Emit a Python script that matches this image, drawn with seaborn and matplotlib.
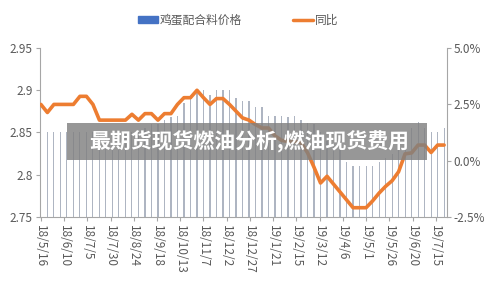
import numpy as np
import pandas as pd
import matplotlib
matplotlib.use("Agg")
import matplotlib.pyplot as plt
import seaborn as sns
from matplotlib.patches import Patch, Rectangle
from matplotlib.lines import Line2D

# ---------------- data ----------------
start_date = "2018-05-16"   # weekly series
price = [2.857, 2.85, 2.85, 2.85, 2.85, 2.85, 2.85, 2.85, 2.85, 2.85,
         2.85, 2.85, 2.85, 2.85, 2.85, 2.85, 2.855, 2.86, 2.86, 2.865,
         2.868, 2.87, 2.885, 2.893, 2.902, 2.90, 2.895, 2.90, 2.90, 2.90,
         2.891, 2.887, 2.887, 2.88, 2.88, 2.87, 2.87, 2.87, 2.868, 2.87,
         2.865, 2.861, 2.86, 2.85, 2.84, 2.835, 2.83, 2.815, 2.81, 2.81,
         2.81, 2.81, 2.815, 2.82, 2.825, 2.84, 2.85, 2.855, 2.863, 2.855,
         2.85, 2.85, 2.855]
yoy = [2.5, 2.14, 2.5, 2.5, 2.5, 2.5, 2.86, 2.86, 2.5, 1.8,
       1.8, 1.8, 1.8, 1.8, 2.06, 1.8, 2.09, 2.09, 1.8, 2.09,
       2.09, 2.5, 2.8, 2.8, 3.13, 2.8, 2.5, 2.76, 2.76, 2.5,
       2.2, 1.9, 1.8, 1.6, 1.45, 1.45, 1.1, 0.9, 0.85, 0.85,
       0.8, 0.35, -0.3, -1.0, -0.7, -1.05, -1.4, -1.75, -2.1, -2.1,
       -2.1, -1.8, -1.45, -1.15, -0.9, -0.5, 0.3, 0.34, 0.69, 0.69,
       0.36, 0.69, 0.69]
tick_labels = ["18/5/16", "18/6/10", "18/7/5", "18/7/30", "18/8/24", "18/9/18",
               "18/10/13", "18/11/7", "18/12/2", "18/12/27", "19/1/21", "19/2/15",
               "19/3/12", "19/4/6", "19/5/1", "19/5/26", "19/6/20", "19/7/15"]
left_ticks = [2.75, 2.8, 2.85, 2.9, 2.95]
right_ticks = [-2.5, 0.0, 2.5, 5.0]
series_names = ["鸡蛋配合料价格", "同比"]
overlay_text = "最期货现货燃油分析,燃油现货费用"

# ---------------- prep ----------------
dates = pd.date_range(start_date, periods=len(price), freq="7D")
day = np.asarray((dates - dates[0]).days)
df = pd.DataFrame({"day": day, "price": price, "yoy": yoy})
tick_days = [(pd.to_datetime("20" + t, format="%Y/%m/%d") - dates[0]).days
             for t in tick_labels]

sns.set_theme(style="white")
plt.rcParams["font.family"] = ["Noto Sans CJK SC", "DejaVu Sans"]

txt = "#595959"
axc = "#a6a6a6"
bar_c = "#aeb5c2"
line_c = "#ED7D31"

fig = plt.figure(figsize=(4.95, 2.84), dpi=100)
ax = fig.add_axes([0.0798, 0.237, 0.823, 0.593])

sns.barplot(data=df, x="day", y="price", native_scale=True, width=0.17,
            color=bar_c, saturation=1, linewidth=0, ax=ax)
ax.set_ylim(2.75, 2.95)
ax.set_yticks(left_ticks)
ax.set_yticklabels([f"{v:g}" for v in left_ticks])
ax.set_xlim(-1.5, 437)
ax.set_xticks(tick_days)
ax.set_xticklabels(tick_labels, rotation=-90)
ax.set_xlabel("")
ax.set_ylabel("")

ax2 = ax.twinx()
sns.lineplot(data=df, x="day", y="yoy", color=line_c, linewidth=2.6, ax=ax2)
ax2.set_ylim(-2.5, 5.0)
ax2.set_yticks(right_ticks)
ax2.set_yticklabels([f"{v:.1f}%" for v in right_ticks])
ax2.set_xlim(-1.5, 437)
ax2.set_xlabel("")
ax2.set_ylabel("")

for a in (ax, ax2):
    a.spines["top"].set_visible(False)
    for s in ("left", "right", "bottom"):
        a.spines[s].set_color(axc)
        a.spines[s].set_linewidth(0.8)
    a.tick_params(axis="both", colors=axc, labelcolor=txt, labelsize=8.5,
                  length=3, width=0.8, direction="out", pad=2)
ax.spines["right"].set_visible(False)
ax2.spines["left"].set_visible(False)
ax2.spines["bottom"].set_visible(False)
ax.tick_params(axis="y", left=True)
ax.tick_params(axis="x", bottom=True, labelsize=8.5, pad=3)
ax2.tick_params(axis="y", right=True)

# legend
handles = [Patch(color="#4472c4"), Line2D([], [], color=line_c, lw=2.5)]
leg = fig.legend(handles=handles, labels=series_names, loc="center",
                 bbox_to_anchor=(0.481, 0.93), ncol=2, frameon=False,
                 fontsize=8.5, handlelength=1.7, handleheight=0.5,
                 columnspacing=4.3, handletextpad=0.15)
for t in leg.get_texts():
    t.set_color(txt)

# overlay band with watermark text
fig.patches.append(Rectangle((67 / 495, 1 - 160 / 284), 360 / 495, 37 / 284,
                             transform=fig.transFigure, facecolor="#808080",
                             alpha=0.82, edgecolor="none", zorder=5))
fig.text(249 / 495, 1 - 141.5 / 284, overlay_text, color="white",
         fontsize=15, fontweight="bold", ha="center", va="center", zorder=6)

fig.savefig("out.png", dpi=100)
